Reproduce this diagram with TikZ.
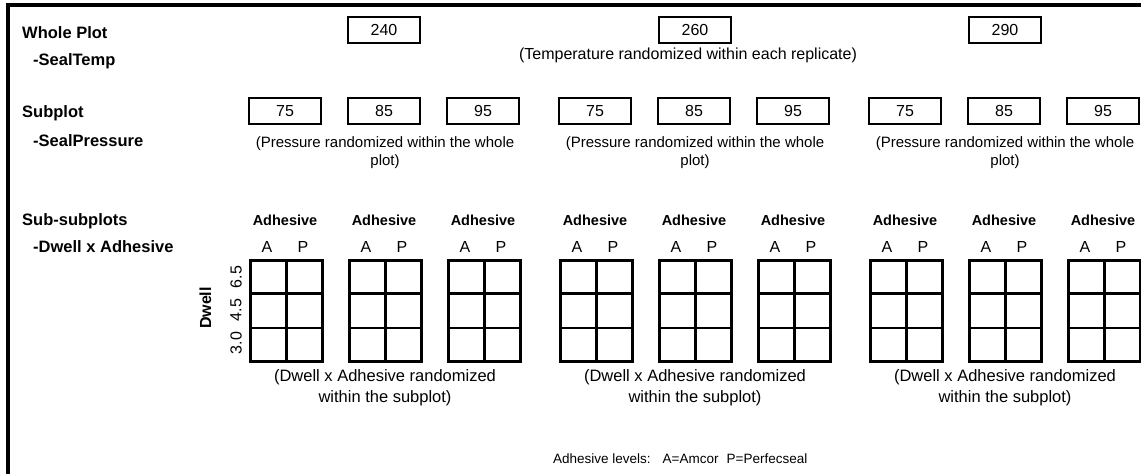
\documentclass[tikz,border=0pt]{standalone}
\usepackage{fontspec}
\setmainfont{Liberation Sans}
\usetikzlibrary{calc}
\begin{document}
\begin{tikzpicture}[x=1pt,y=-1pt,
  rowlbl/.style={font=\fontsize{16.5}{19}\selectfont\bfseries, anchor=base west, inner sep=0pt},
  collbl/.style={font=\fontsize{14.5}{17}\selectfont\bfseries, anchor=base, inner sep=0pt},
  lvl/.style={font=\fontsize{16}{19}\selectfont, anchor=base, inner sep=0pt},
  note/.style={font=\fontsize{15}{18}\selectfont, align=center, anchor=base, inner sep=0pt},
  numbox/.style={draw, line width=1.8pt, minimum width=72pt, minimum height=26pt, inner sep=0pt,
                 font=\fontsize{16}{19}\selectfont},
  cellgrid/.style={draw, line width=2.8pt, minimum width=72pt, minimum height=101pt, inner sep=0pt, anchor=north west},
  gridline/.style={line width=2.5pt},
  frameline/.style={line width=3.5pt}
]
\useasboundingbox (0,0) rectangle (1141,474);

% outer frame (top and left edges)
\coordinate (fbl) at (8,474);
\coordinate (ftl) at (8,5);
\coordinate (ftr) at (1141,5);
\draw[frameline] (fbl) -- (ftl) -- (ftr);

% row headings
\node[rowlbl] (wp)  at (22,38)  {Whole Plot};
\node[rowlbl] (wpf) at (33,65)  {-SealTemp};
\node[rowlbl] (sp)  at (22,117) {Subplot};
\node[rowlbl] (spf) at (33,146) {-SealPressure};
\node[rowlbl] (ssp) at (22,225) {Sub-subplots};
\node[rowlbl] (sspf) at (33,252) {-Dwell x Adhesive};

% whole plots: seal temperature
\node[numbox] (t1) at (384,30)   {240};
\node[numbox] (t2) at (695,30)   {260};
\node[numbox] (t3) at (1005,30)  {290};
\node[note, font=\fontsize{16}{19}\selectfont] (tnote) at (688,59) {(Temperature randomized within each replicate)};

% dwell axis labels
\node[font=\fontsize{16}{19}\selectfont\bfseries, rotate=90, inner sep=0pt] (dwell) at (205.5,308) {Dwell};
\node[lvl, anchor=center, rotate=90] (d65) at (236,277) {6.5};
\node[lvl, anchor=center, rotate=90] (d45) at (236,310) {4.5};
\node[lvl, anchor=center, rotate=90] (d30) at (236,343) {3.0};

% subplots and sub-subplots
\foreach \g [count=\gi] in {249,559,869} {
  \pgfmathsetmacro{\gc}{\g+136}
  \node[note] (pnote-\gi) at (\gc,165) {(Pressure randomized within the whole\\plot)};
  \node[note, font=\fontsize{16.5}{19}\selectfont] (dnote-\gi) at (\gc,402) {(Dwell x Adhesive randomized\\[2pt]within the subplot)};
  \foreach \p [count=\k from 0] in {75,85,95} {
    \pgfmathsetmacro{\x}{\g+99*\k}
    \pgfmathsetmacro{\xc}{\x+36}
    \pgfmathsetmacro{\xa}{\x+18}
    \pgfmathsetmacro{\xp}{\x+54}
    \node[numbox] (p-\gi-\k) at (\xc,111) {\p};
    \node[collbl] (adh-\gi-\k) at (\xc,225) {Adhesive};
    \node[lvl] (a-\gi-\k) at (\xa,252) {A};
    \node[lvl] (pp-\gi-\k) at (\xp,252) {P};
    \node[cellgrid] (g-\gi-\k) at (\x,259) {};
    \draw[gridline] (g-\gi-\k.north) -- (g-\gi-\k.south);
    \draw[gridline] ($(g-\gi-\k.north west)!1/3!(g-\gi-\k.south west)$) -- ($(g-\gi-\k.north east)!1/3!(g-\gi-\k.south east)$);
    \draw[gridline] ($(g-\gi-\k.north west)!2/3!(g-\gi-\k.south west)$) -- ($(g-\gi-\k.north east)!2/3!(g-\gi-\k.south east)$);
  }
}

% legend
\node[font=\fontsize{13.5}{16}\selectfont, anchor=base west, inner sep=0pt] (legend) at (553,463)
  {Adhesive levels:\hspace{12pt}A=Amcor\hspace{8pt}P=Perfecseal};
\end{tikzpicture}
\end{document}
